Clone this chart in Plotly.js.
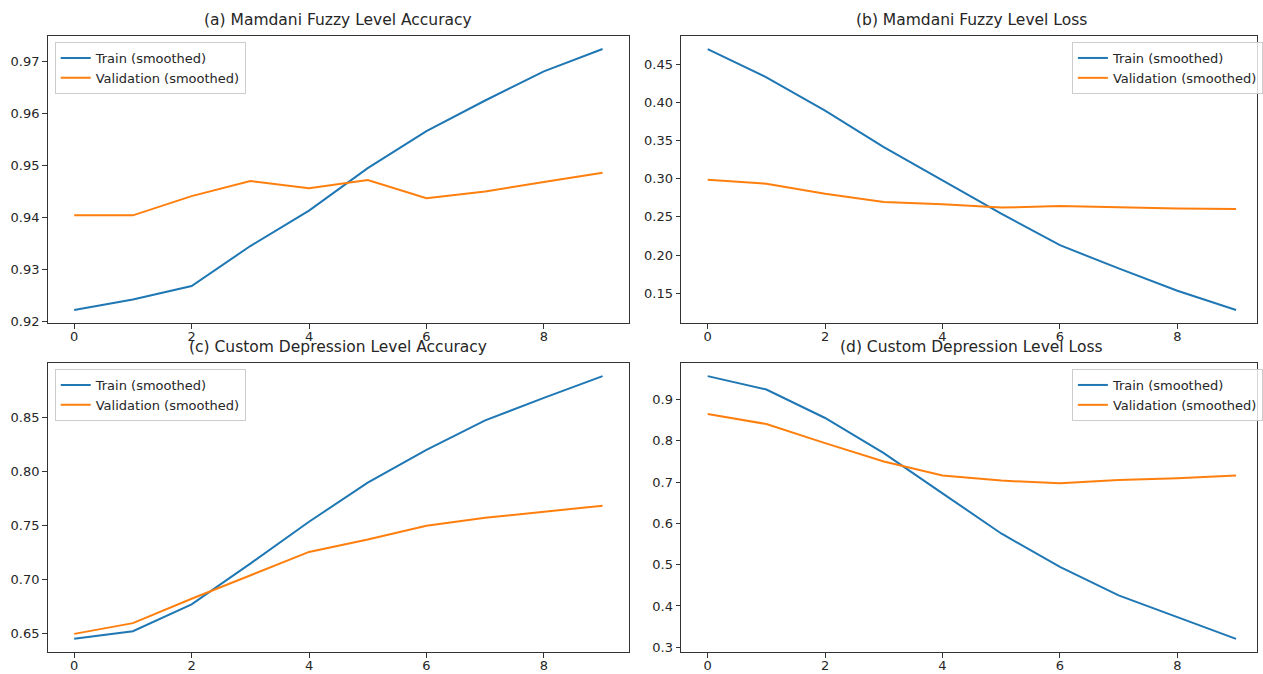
<!DOCTYPE html>
<html>
<head>
<meta charset="utf-8">
<script src="https://cdn.plot.ly/plotly-3.0.1.min.js"></script>
<style>
html,body{margin:0;padding:0;background:#fff;}
#chart{width:1263px;height:674px;}
</style>
</head>
<body>
<div id="chart"></div>
<script>
// ---- data ----
const epochs = [0, 1, 2, 3, 4, 5, 6, 7, 8, 9];
const seriesNames = ['Train (smoothed)', 'Validation (smoothed)'];
const panelTitles = [
  '(a) Mamdani Fuzzy Level Accuracy',
  '(b) Mamdani Fuzzy Level Loss',
  '(c) Custom Depression Level Accuracy',
  '(d) Custom Depression Level Loss'
];
const accFuzzyTrain  = [0.9222, 0.9242, 0.9268, 0.9345, 0.9413, 0.9495, 0.9566, 0.9625, 0.9681, 0.9724];
const accFuzzyVal    = [0.9404, 0.9404, 0.9441, 0.9470, 0.9456, 0.9472, 0.9437, 0.9450, 0.9468, 0.9486];
const lossFuzzyTrain = [0.4696, 0.4326, 0.3891, 0.3413, 0.2978, 0.2543, 0.2130, 0.1826, 0.1535, 0.1283];
const lossFuzzyVal   = [0.2987, 0.2935, 0.2804, 0.2696, 0.2665, 0.2622, 0.2643, 0.2622, 0.2609, 0.2604];
const accCustomTrain = [0.6454, 0.6525, 0.6772, 0.7148, 0.7534, 0.7895, 0.8198, 0.8469, 0.8676, 0.8877];
const accCustomVal   = [0.6500, 0.6599, 0.6824, 0.7040, 0.7256, 0.7370, 0.7497, 0.7571, 0.7627, 0.7682];
const lossCustomTrain= [0.9568, 0.9243, 0.8554, 0.7702, 0.6729, 0.5756, 0.4945, 0.4256, 0.3729, 0.3203];
const lossCustomVal  = [0.8651, 0.8408, 0.7946, 0.7500, 0.7159, 0.7037, 0.6972, 0.7054, 0.7094, 0.7159];

// ---- layout geometry ----
const W = 1263, H = 674;
const colors = ['#1f77b4', '#ff7f0e'];
const font = 'DejaVu Sans, Verdana, sans-serif';
const textColor = '#262626';
const spine = '#333333';

const panels = [
  {train: accFuzzyTrain,  val: accFuzzyVal,    left: 48,    right: 632, top: 36,  bottom: 323, dtick: 0.01, fmt: '.2f', legX: 55,   legend: 'legend'},
  {train: lossFuzzyTrain, val: lossFuzzyVal,   left: 684.5, right: W,   top: 36,  bottom: 323, dtick: 0.05, fmt: '.2f', legX: 1077, legend: 'legend2'},
  {train: accCustomTrain, val: accCustomVal,   left: 48,    right: 632, top: 363, bottom: 652, dtick: 0.05, fmt: '.2f', legX: 55,   legend: 'legend3'},
  {train: lossCustomTrain,val: lossCustomVal,  left: 684.5, right: W,   top: 363, bottom: 652, dtick: 0.1,  fmt: '.1f', legX: 1077, legend: 'legend4'}
];
const fullAxisWidth = 584; // pixel width of the full (-0.45..9.45) x range
const traces = [];
const layout = {
  width: W, height: H,
  margin: {l: 0, r: 0, t: 0, b: 0},
  paper_bgcolor: '#fff', plot_bgcolor: '#fff',
  font: {family: font, size: 13, color: textColor},
  annotations: [],
  showlegend: true
};

panels.forEach((p, i) => {
  const n = i + 1;
  const xa = 'x' + (n === 1 ? '' : n), ya = 'y' + (n === 1 ? '' : n);
  const xKey = 'xaxis' + (n === 1 ? '' : n), yKey = 'yaxis' + (n === 1 ? '' : n);
  [p.train, p.val].forEach((vals, k) => {
    traces.push({
      x: epochs, y: vals, type: 'scatter', mode: 'lines',
      name: seriesNames[k], xaxis: xa, yaxis: ya, legend: p.legend,
      line: {color: colors[k], width: 2},
      hoverinfo: 'x+y'
    });
  });
  const all = p.train.concat(p.val);
  const mn = Math.min(...all), mx = Math.max(...all), pad = (mx - mn) * 0.05;
  const xStart = -0.45;
  const xEnd = xStart + 9.9 * (p.right - p.left) / fullAxisWidth;
  const axCommon = {
    showgrid: false, zeroline: false, showline: true, mirror: true,
    linecolor: spine, linewidth: 1.2, ticks: 'outside', ticklen: 4.5,
    tickcolor: spine, tickwidth: 1, tickfont: {family: font, size: 13, color: textColor}
  };
  layout[xKey] = Object.assign({}, axCommon, {
    domain: [p.left / W, p.right / W], anchor: ya,
    range: [xStart, xEnd], tickmode: 'linear', tick0: 0, dtick: 2,
    ticklabelstandoff: -3
  });
  layout[yKey] = Object.assign({}, axCommon, {
    domain: [1 - p.bottom / H, 1 - p.top / H], anchor: xa,
    range: [mn - pad, mx + pad], tickmode: 'linear', tick0: 0, dtick: p.dtick, tickformat: p.fmt
  });
  const fullRight = p.left + fullAxisWidth;
  layout.annotations.push({
    text: panelTitles[i], xref: 'paper', yref: 'paper',
    x: ((p.left + fullRight) / 2) / W, y: 1 - (p.top - 16) / H,
    xanchor: 'center', yanchor: 'middle', showarrow: false,
    font: {family: font, size: 15.5, color: textColor}
  });
  layout[p.legend] = {
    x: p.legX / W, y: 1 - (p.top + 6) / H, xanchor: 'left', yanchor: 'top',
    bgcolor: 'rgba(255,255,255,0.8)', bordercolor: '#cccccc', borderwidth: 1,
    font: {family: font, size: 13, color: textColor}, itemwidth: 30,
    traceorder: 'normal'
  };
});

Plotly.newPlot('chart', traces, layout, {displayModeBar: false, staticPlot: true});
</script>
</body>
</html>
